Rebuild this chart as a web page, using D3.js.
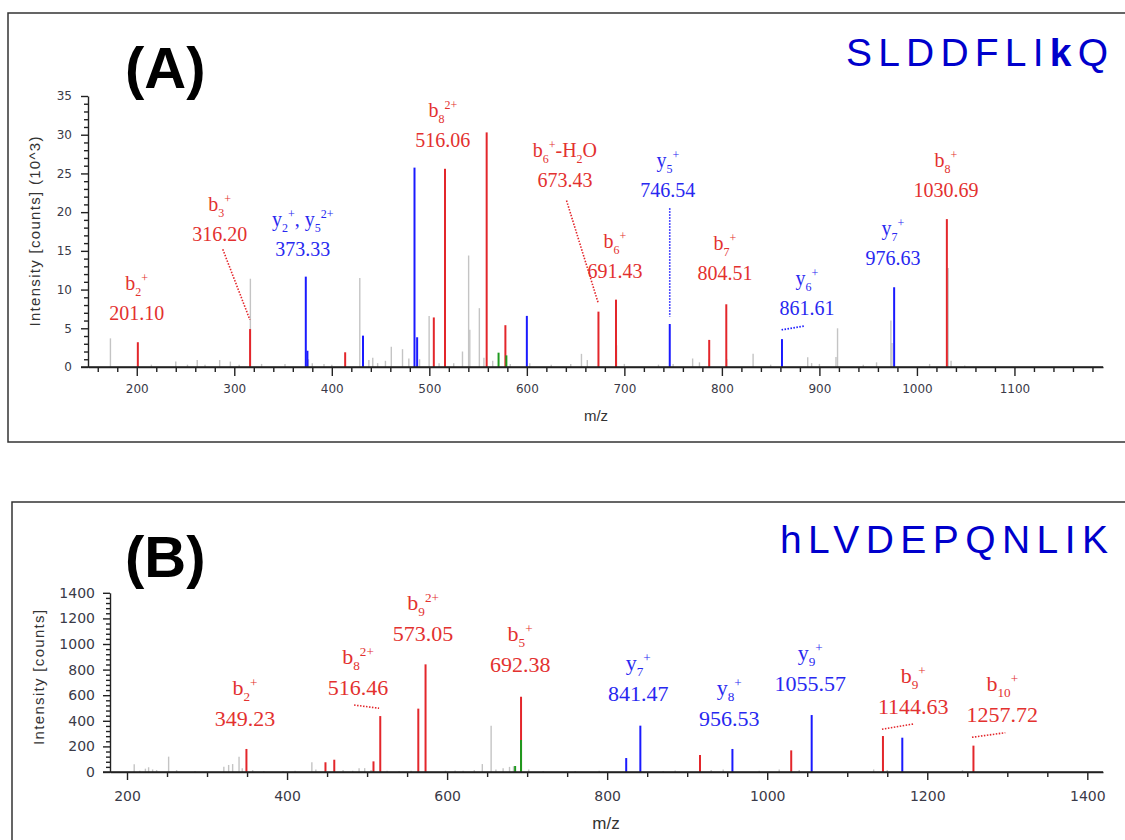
<!DOCTYPE html>
<html>
<head>
<meta charset="utf-8">
<script src="https://cdn.jsdelivr.net/npm/d3@7"></script>
<style>
  body { margin: 0; background: #fff; }
  svg { display: block; }
</style>
</head>
<body>
<div id="chart"></div>
<script>
// ---------- panel A : SLDDFLIkQ (intensity in 10^3 counts) ----------
const grayA = [[173,3.7],[215,0.3],[240,0.7],[252,0.3],[262,0.9],[270,0.3],[285,0.9],[296,0.7],[305,0.3],
  [316.5,11.4],[328,0.4],[352,0.4],[376,1.0],[380,0.5],[392,0.4],[400,0.3],[428.7,11.5],[438,0.9],[442,1.2],
  [447,0.5],[455,0.8],[461,2.6],[472.5,2.3],[479,1.1],[490,1.0],[499.8,6.6],[510,0.5],[525,0.5],[534,2.0],
  [540.3,14.4],[541.5,4.8],[551.3,7.6],[556,1.2],[565,0.8],[583,0.4],[603,0.5],[625,0.3],[645,0.4],[656,1.7],
  [662,0.9],[692,2.8],[700,0.4],[735,0.3],[750,0.4],[770,1.1],[777,0.6],[787,1.0],[805,1.0],[832,1.7],[850,0.3],
  [888,1.25],[892,0.5],[900,0.4],[917,1.3],[918.6,5.0],[945,0.3],[958.6,0.6],[973.3,6.0],[974.4,3.1],[1013,0.4],
  [1032,12.8],[1035,0.8],[1049,0.2]];
const redA = [[201.1,3.2],[316.2,4.9],[413.7,1.9],[504.6,6.4],[516.06,25.6],[558.8,30.3],[578,5.4],
  [673.43,7.15],[691.43,8.7],[787,3.5],[804.51,8.1],[1030.69,19.1]];
const blueA = [[373.33,11.67],[375,2.1],[432,4.05],[484.8,25.75],[487.5,3.84],[600,6.6],[746.54,5.55],
  [861.61,3.6],[976.63,10.3]];
const greenA = [[571,1.85],[579,1.5]];

const ionsA = ["b_{2}^{+}", "b_{3}^{+}", "y_{2}^{+}, y_{5}^{2+}", "b_{8}^{2+}", "b_{6}^{+}-H_{2}O", "y_{5}^{+}",
  "b_{6}^{+}", "b_{7}^{+}", "y_{6}^{+}", "y_{7}^{+}", "b_{8}^{+}"];
const ionMzA = [201.10, 316.20, 373.33, 516.06, 673.43, 746.54, 691.43, 804.51, 861.61, 976.63, 1030.69];
const ionTypeA = ["b","b","y","b","b","y","b","b","y","y","b"];

// ---------- panel B : hLVDEPQNLIK (intensity in counts) ----------
const grayB = [[209,60],[216,10],[223,26],[227,37],[232,20],[237,15],[252,120],[262,15],[285,8],[321,41],
  [327,55],[332,62],[340,120],[344,30],[357,15],[371,8],[395,8],[410,10],[431,76],[436,20],[470,15],[482,10],
  [490,30],[497,30],[505,15],[525,10],[540,8],[555,10],[598,10],[610,12],[620,10],[634,15],[644,62],[655,362],
  [661,20],[670,30],[678,40],[683,45],[702,20],[720,8],[760,8],[790,10],[870,8],[885,12],[930,15],[945,20],
  [990,10],[1015,20],[1040,15],[1133,20],[1145,100],[1150,15],[1244,15]];
const redB = [[349.23,180],[448,76],[459,96],[508,83],[516.46,437],[564,495],[573.05,841],[692.38,588],
  [916,133],[1030,169],[1144.63,281],[1257.72,206]];
const blueB = [[823.8,109],[841.47,362],[956.53,180],[1055.57,445],[1168.8,268]];
const greenB = [[685,47],[692.38,250]];

const ionsB = ["b_{2}^{+}", "b_{8}^{2+}", "b_{9}^{2+}", "b_{5}^{+}", "y_{7}^{+}", "y_{8}^{+}", "y_{9}^{+}",
  "b_{9}^{+}", "b_{10}^{+}"];
const ionMzB = [349.23, 516.46, 573.05, 692.38, 841.47, 956.53, 1055.57, 1144.63, 1257.72];
const ionTypeB = ["b","b","b","b","y","y","y","b","b"];

// label anchors (number baseline) and leader lines, in data coordinates
const labelPosA = [[200,6.07],[285.1,16.28],[370.3,14.34],[513.8,28.42],[639,23.26],[744.6,21.96],
  [690.3,11.5],[803.1,11.24],[887.2,6.72],[975.4,13.18],[1029.7,21.96]];
const leadersA = [["b",[288.2,15.2],[316,6.1]],["b",[640.7,21.5],[673.1,8.3]],
  ["y",[746.54,20.5],[746.54,6.5]],["y",[861.2,4.8],[885,5.3]]];
const labelPosB = [[347.5,359],[488.75,601.6],[570,1023],[691.25,781],[838.75,555],[952.5,359],
  [1053.75,633],[1182.5,453],[1293.75,391]];
const leadersB = [["b",[483.75,523],[515,498]],["b",[1143.4,334],[1182.9,375]],["b",[1255.9,271],[1297.5,307]]];

const W = 1125, H = 840;
const RED = "#e3262b", BLUE = "#1a1aff", GRAY = "#c4c4c4", GREEN = "#1e9a1e";
const TXT_RED = "#e3312f", TXT_BLUE = "#2828f0";
const SERIF = "'Liberation Serif', 'Times New Roman', serif";
const TICKF = "'DejaVu Sans', Verdana, sans-serif";
const SANS = "'Liberation Sans', Arial, sans-serif";

const svg = d3.select('#chart').append('svg')
  .attr('width', W).attr('height', H);

function parseLabel(s) {
  const re = /([_^])\{([^}]*)\}|([^_^]+)/g;
  let out = [], m;
  while ((m = re.exec(s)) !== null) {
    if (m[3]) out.push({t: m[3], k: ""});
    else out.push({t: m[2], k: m[1] === "_" ? "sub" : "sup"});
  }
  return out;
}

function drawPanel(p) {
  const g = svg.append('g');

  // frame
  g.append('rect')
    .attr('x', p.box[0]).attr('y', p.box[1])
    .attr('width', p.box[2]).attr('height', p.box[3])
    .attr('fill', 'none').attr('stroke', '#333').attr('stroke-width', 1.5);

  const x = d3.scaleLinear().domain(p.xDomain).range([p.left, p.right]);
  const y = d3.scaleLinear().domain(p.yDomain).range([p.bottom, p.top]);

  // peaks
  const series = [[p.gray, GRAY, 1.4], [p.red, RED, 2], [p.blue, BLUE, 2], [p.green, GREEN, 2]];
  series.forEach(s => {
    g.append('g').selectAll('line')
      .data(s[0])
      .enter()
      .append('line')
      .attr('x1', d => x(d[0])).attr('x2', d => x(d[0]))
      .attr('y1', y(0)).attr('y2', d => y(d[1]))
      .attr('stroke', s[1]).attr('stroke-width', s[2]);
  });

  // axes
  const xMajor = d3.range(p.xTicks[0], p.xTicks[1] + 1, p.xTicks[2]);
  const xMinor = d3.range(p.xMinor[0], p.xMinor[1] + 1, p.xMinor[2]).filter(v => xMajor.indexOf(v) < 0);
  const yMajor = d3.range(p.yTicks[0], p.yTicks[1] + 1, p.yTicks[2]);
  const yMinor = d3.range(p.yTicks[0], p.yTicks[1] + 1, p.yMinorStep).filter(v => yMajor.indexOf(v) < 0);

  g.append('g').attr('transform', `translate(0,${p.bottom})`)
    .call(d3.axisBottom(x).tickValues(xMajor).tickSize(p.xTickLen).tickSizeOuter(0)
      .tickPadding(p.xPad).tickFormat(d3.format('d')));
  g.append('g').attr('transform', `translate(0,${p.bottom})`)
    .call(d3.axisBottom(x).tickValues(xMinor).tickSize(5).tickSizeOuter(0).tickFormat(''))
    .select('.domain').remove();
  g.append('g').attr('transform', `translate(${p.left},0)`)
    .call(d3.axisLeft(y).tickValues(yMajor).tickSize(7).tickSizeOuter(0).tickPadding(p.yPad)
      .tickFormat(d3.format('d')));
  g.append('g').attr('transform', `translate(${p.left},0)`)
    .call(d3.axisLeft(y).tickValues(yMinor).tickSize(4).tickSizeOuter(0).tickFormat(''))
    .select('.domain').remove();
  // x axis line reaches a little left of the y axis
  g.append('line')
    .attr('x1', p.left - 7).attr('x2', p.right)
    .attr('y1', p.bottom).attr('y2', p.bottom)
    .attr('stroke', '#222').attr('stroke-width', 1.6);

  g.selectAll('.tick line, .domain').attr('stroke', '#222').attr('stroke-width', 1.4);
  g.selectAll('.tick text')
    .attr('font-family', TICKF).attr('font-size', p.tickFont).attr('fill', '#3a3a48');

  // axis titles
  g.append('text')
    .attr('transform', `translate(${p.yTitleX},${(p.top + p.bottom) / 2 + p.yTitleDy}) rotate(-90)`)
    .attr('text-anchor', 'middle')
    .attr('font-family', SANS).attr('font-size', 15).attr('fill', '#333')
    .attr('textLength', p.yTitleLen).attr('lengthAdjust', 'spacing')
    .text(p.yTitle);
  g.append('text')
    .attr('x', p.mzX).attr('y', p.mzY)
    .attr('text-anchor', 'middle')
    .attr('font-family', SANS).attr('font-size', p.mzFont).attr('fill', '#333')
    .text('m/z');

  // panel letter and peptide sequence
  g.append('text')
    .attr('x', p.letterX).attr('y', p.letterY)
    .attr('font-family', SANS).attr('font-weight', 'bold').attr('font-size', 58).attr('fill', '#000')
    .text(p.letter);
  const seq = g.append('text')
    .attr('x', p.seqX).attr('y', p.seqY)
    .attr('font-family', SANS).attr('font-size', 39).attr('fill', '#0000cc')
    .attr('textLength', p.seqLen).attr('lengthAdjust', 'spacing');
  p.seq.split('').forEach(c => {
    seq.append('tspan')
      .attr('font-weight', c === 'k' ? 'bold' : 'normal')
      .text(c);
  });

  // leader lines
  g.append('g').selectAll('line')
    .data(p.leaders)
    .enter()
    .append('line')
    .attr('x1', d => x(d[1][0])).attr('y1', d => y(d[1][1]))
    .attr('x2', d => x(d[2][0])).attr('y2', d => y(d[2][1]))
    .attr('stroke', d => d[0] === 'b' ? RED : BLUE)
    .attr('stroke-width', 1.6)
    .attr('stroke-dasharray', '1.5,1.5');

  // annotations
  p.ions.forEach((ion, i) => {
    const col = p.ionType[i] === 'b' ? TXT_RED : TXT_BLUE;
    const px = x(p.labelPos[i][0]), py = y(p.labelPos[i][1]);
    g.append('text')
      .attr('x', px).attr('y', py)
      .attr('text-anchor', 'middle')
      .attr('font-family', SERIF).attr('font-size', p.annFont).attr('fill', col)
      .text(p.ionMz[i].toFixed(2));
    const t = g.append('text')
      .attr('x', px).attr('y', py - p.annGap)
      .attr('text-anchor', 'middle')
      .attr('font-family', SERIF).attr('font-size', p.annFont).attr('fill', col);
    let shift = 0;
    parseLabel(ion).forEach(seg => {
      const target = seg.k === 'sub' ? p.annFont * 0.28 : seg.k === 'sup' ? -p.annFont * 0.38 : 0;
      t.append('tspan')
        .attr('dy', target - shift)
        .attr('font-size', seg.k ? p.annFont * 0.6 : p.annFont)
        .text(seg.t);
      shift = target;
    });
  });
}

drawPanel({
  box: [8, 13, 1130, 429],
  left: 88, right: 1103, bottom: 367, top: 96,
  xDomain: [150, 1190.8], yDomain: [0, 35],
  xTicks: [200, 1100, 100], xMinor: [160, 1180, 20], yTicks: [0, 35, 5], yMinorStep: 1,
  xTickLen: 9, xPad: 8, yPad: 9, tickFont: 12,
  yTitle: 'Intensity [counts] (10^3)', yTitleX: 40, yTitleDy: 0, yTitleLen: 190,
  mzX: 596, mzY: 421, mzFont: 15,
  letter: '(A)', letterX: 125, letterY: 88,
  seq: 'SLDDFLIkQ', seqX: 846, seqY: 66, seqLen: 262,
  gray: grayA, red: redA, blue: blueA, green: greenA,
  ions: ionsA, ionMz: ionMzA, ionType: ionTypeA, labelPos: labelPosA, leaders: leadersA,
  annFont: 20, annGap: 30
});

drawPanel({
  box: [12, 502, 1130, 360],
  left: 110, right: 1103, bottom: 772, top: 592.8,
  xDomain: [178.75, 1419.6], yDomain: [0, 1400],
  xTicks: [200, 1400, 200], xMinor: [200, 1400, 50], yTicks: [0, 1400, 200], yMinorStep: 40,
  xTickLen: 8, xPad: 11, yPad: 8, tickFont: 14,
  yTitle: 'Intensity [counts]', yTitleX: 44, yTitleDy: -5, yTitleLen: 135,
  mzX: 606, mzY: 829, mzFont: 17,
  letter: '(B)', letterX: 125, letterY: 577,
  seq: 'hLVDEPQNLIK', seqX: 780, seqY: 553, seqLen: 328,
  gray: grayB, red: redB, blue: blueB, green: greenB,
  ions: ionsB, ionMz: ionMzB, ionType: ionTypeB, labelPos: labelPosB, leaders: leadersB,
  annFont: 22, annGap: 31
});
</script>
</body>
</html>
